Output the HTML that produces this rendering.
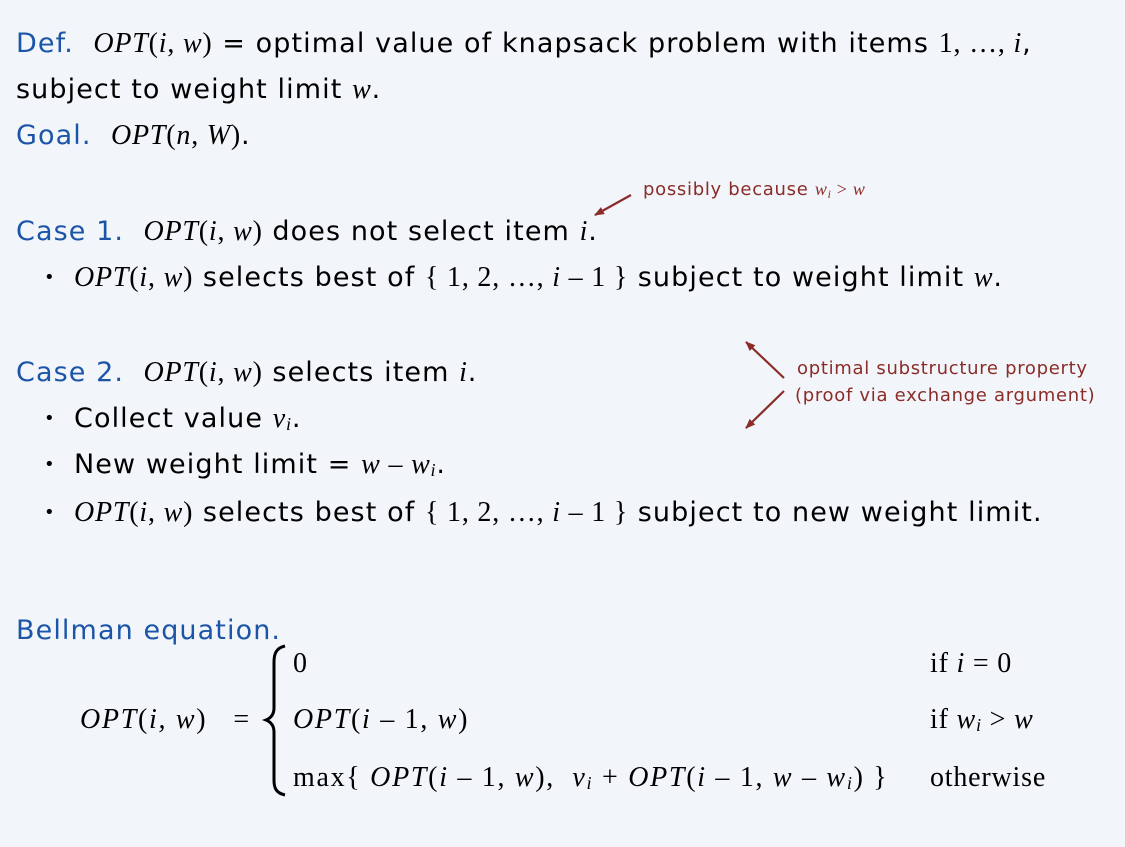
<!DOCTYPE html>
<html><head><meta charset="utf-8"><style>
html,body{margin:0;padding:0}
body{width:1125px;height:847px;background:#f2f5f9;position:relative;overflow:hidden;font-family:"DejaVu Sans","Liberation Sans",sans-serif;color:#000}
.l{position:absolute;white-space:nowrap;font-size:27px;line-height:30px;letter-spacing:1.1px}
.b{color:#1b55a8}
.m{font-family:"Liberation Serif",serif;font-style:italic;font-size:28px;letter-spacing:0.8px}
.r{font-family:"Liberation Serif",serif;font-size:28px;letter-spacing:0.8px}
.a{position:absolute;white-space:nowrap;color:#8a2c28;font-size:18px;line-height:22px;letter-spacing:0.7px}
.e{position:absolute;white-space:nowrap;font-family:"Liberation Serif",serif;font-size:28px;line-height:30px;letter-spacing:1.7px}
.e i{font-style:italic}
sub{font-size:65%;vertical-align:-3px;line-height:0}
.dot{display:inline-block;width:30px;font-size:18px;vertical-align:3px}
</style></head><body>
<div class="l" style="left:16px;top:29px"><span class="b">Def.</span>&nbsp; <span class="m">OPT</span><span class="r">(</span><span class="m">i</span><span class="r">, </span><span class="m">w</span><span class="r">)</span> = optimal value of knapsack problem with items <span class="r">1, …, </span><span class="m">i</span>,</div>
<div class="l" style="left:16px;top:75px">subject to weight limit <span class="m">w</span>.</div>
<div class="l" style="left:16px;top:121px"><span class="b">Goal.</span>&nbsp; <span class="m">OPT</span><span class="r">(</span><span class="m">n</span><span class="r">, </span><span class="m">W</span><span class="r">)</span>.</div>

<div class="l" style="left:16px;top:217px"><span class="b">Case 1.</span>&nbsp; <span class="m">OPT</span><span class="r">(</span><span class="m">i</span><span class="r">, </span><span class="m">w</span><span class="r">)</span> does not select item <span class="m">i</span>.</div>
<div class="l" style="left:44px;top:263px"><span class="dot">•</span><span class="m">OPT</span><span class="r">(</span><span class="m">i</span><span class="r">, </span><span class="m">w</span><span class="r">)</span> selects best of <span class="r">{ 1, 2, …, </span><span class="m">i</span><span class="r"> – 1 }</span> subject to weight limit <span class="m">w</span>.</div>

<div class="l" style="left:16px;top:358px"><span class="b">Case 2.</span>&nbsp; <span class="m">OPT</span><span class="r">(</span><span class="m">i</span><span class="r">, </span><span class="m">w</span><span class="r">)</span> selects item <span class="m">i</span>.</div>
<div class="l" style="left:44px;top:404px"><span class="dot">•</span>Collect value <span class="m">v<sub>i</sub></span>.</div>
<div class="l" style="left:44px;top:450px"><span class="dot">•</span>New weight limit = <span class="m">w</span><span class="r"> – </span><span class="m">w<sub>i</sub></span>.</div>
<div class="l" style="left:44px;top:498px"><span class="dot">•</span><span class="m">OPT</span><span class="r">(</span><span class="m">i</span><span class="r">, </span><span class="m">w</span><span class="r">)</span> selects best of <span class="r">{ 1, 2, …, </span><span class="m">i</span><span class="r"> – 1 }</span> subject to new weight limit.</div>

<div class="l b" style="left:16px;top:616px">Bellman equation.</div>

<div class="a" style="left:643px;top:178px">possibly because <span style="font-family:'Liberation Serif',serif;font-style:italic">w<sub>i</sub></span><span style="font-family:'Liberation Serif',serif"> &gt; </span><span style="font-family:'Liberation Serif',serif;font-style:italic">w</span></div>
<div class="a" style="left:797px;top:358px">optimal substructure property</div>
<div class="a" style="left:795px;top:385px">(proof via exchange argument)</div>

<svg width="1125" height="847" style="position:absolute;left:0;top:0" xmlns="http://www.w3.org/2000/svg">
<defs><marker id="ah" markerWidth="10" markerHeight="8" refX="9" refY="4" orient="auto" markerUnits="userSpaceOnUse"><path d="M0,0 L10,4 L0,8 z" fill="#8a2c28"/></marker></defs>
<g stroke="#8a2c28" stroke-width="2.2" fill="none">
<line x1="631" y1="195" x2="595" y2="215" marker-end="url(#ah)"/>
<line x1="784" y1="378" x2="746" y2="342" marker-end="url(#ah)"/>
<line x1="784" y1="391" x2="746" y2="428" marker-end="url(#ah)"/>
</g>
<path d="M285,646 C276,648 274,654 274,662 L274,708 C274,714 271,718 266,720 C271,722 274,726 274,732 L274,780 C274,788 276,793 285,795" stroke="#000" stroke-width="3" fill="none"/>
</svg>

<div class="e" style="left:80px;top:705px"><i>OPT</i>(<i>i, w</i>) &nbsp;&nbsp;=</div>
<div class="e" style="left:293px;top:649px">0</div>
<div class="e" style="left:293px;top:705px"><i>OPT</i>(<i>i</i> – 1, <i>w</i>)</div>
<div class="e" style="left:293px;top:763px">max{ <i>OPT</i>(<i>i</i> – 1, <i>w</i>),&nbsp; <i>v<sub>i</sub></i> + <i>OPT</i>(<i>i</i> – 1, <i>w</i> – <i>w<sub>i</sub></i>) }</div>
<div class="e" style="left:930px;top:649px;letter-spacing:0.8px">if <i>i</i> = 0</div>
<div class="e" style="left:930px;top:705px;letter-spacing:0.8px">if <i>w<sub>i</sub></i> &gt; <i>w</i></div>
<div class="e" style="left:930px;top:763px;letter-spacing:0.8px">otherwise</div>
</body></html>
